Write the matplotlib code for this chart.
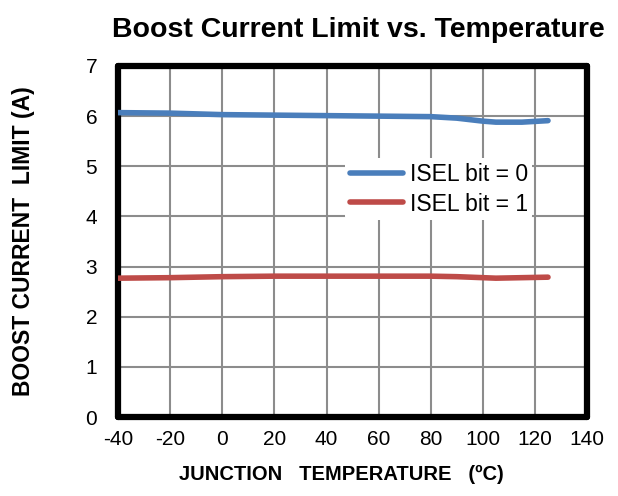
import matplotlib
matplotlib.use("Agg")
import matplotlib.pyplot as plt
import numpy as np

temps = [-40, -20, 0, 20, 40, 60, 80, 90, 100, 105, 115, 125]
isel0 = [6.07, 6.06, 6.03, 6.02, 6.01, 6.00, 5.99, 5.96, 5.90, 5.88, 5.88, 5.91]
isel1 = [2.77, 2.78, 2.80, 2.81, 2.81, 2.81, 2.81, 2.80, 2.78, 2.77, 2.78, 2.79]

xticks = [-40, -20, 0, 20, 40, 60, 80, 100, 120, 140]
yticks = [0, 1, 2, 3, 4, 5, 6, 7]

plt.rcParams['font.family'] = ['Liberation Sans', 'DejaVu Sans']
plt.rcParams['axes.unicode_minus'] = False

fig = plt.figure(figsize=(6.18, 4.96), dpi=100)
ax = fig.add_axes([0.191, 0.159, 0.759, 0.708])

ax.plot(temps, isel0, color='#4a7ebb', lw=4, solid_capstyle='round', label='ISEL bit = 0', zorder=3)
ax.plot(temps, isel1, color='#be4b48', lw=4, solid_capstyle='round', label='ISEL bit = 1', zorder=3)

ax.set_xlim(-40, 140)
ax.set_ylim(0, 7)
ax.set_xticks(xticks)
ax.set_yticks(yticks)
ax.grid(True, color='#8c8c8c', lw=1.5)
ax.set_axisbelow(True)
for s in ax.spines.values():
    s.set_linewidth(4.5)
    s.set_color('black')
    s.set_capstyle('round')
ax.tick_params(axis='both', labelsize=15, length=0)
ax.tick_params(axis='x', pad=9)
ax.tick_params(axis='y', pad=15)

ax.set_title('Boost Current Limit vs. Temperature', fontsize=20.5, fontweight='bold', pad=21, x=0.513)
ax.set_xlabel('JUNCTION   TEMPERATURE   (ºC)', fontsize=14.5, fontweight='bold', labelpad=12, x=0.477)
ax.set_ylabel('BOOST CURRENT  LIMIT (A)', fontsize=16.5, fontweight='bold', labelpad=36)

leg = ax.legend(loc='upper left', bbox_to_anchor=(0.484, 0.738), frameon=True, fontsize=16.6,
                handlelength=2.3, handletextpad=0.3, labelspacing=0.3, borderpad=0.2, borderaxespad=0)
leg.get_frame().set_edgecolor('none')
leg.get_frame().set_facecolor('white')
leg.get_frame().set_alpha(1)

fig.savefig('out.png', dpi=100)
